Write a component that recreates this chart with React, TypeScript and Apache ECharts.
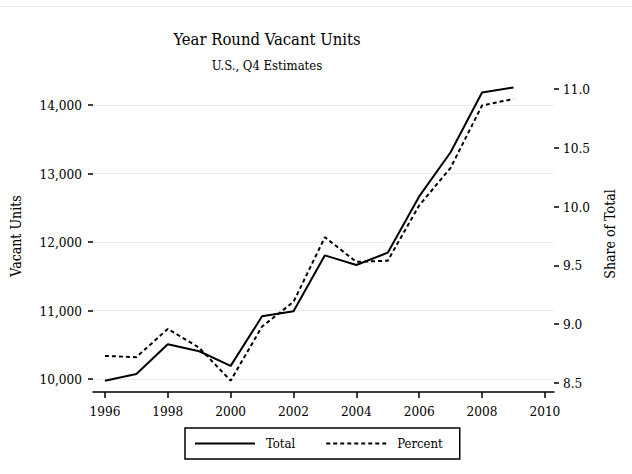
import React, { useEffect, useRef } from 'react';
import * as echarts from 'echarts';

const years = [1996, 1997, 1998, 1999, 2000, 2001, 2002, 2003, 2004, 2005, 2006, 2007, 2008, 2009];
const totalUnits = [9975, 10073, 10506, 10405, 10192, 10915, 10990, 11805, 11665, 11844, 12665, 13310, 14182, 14256];
const percentShare = [8.73, 8.72, 8.96, 8.8, 8.52, 8.98, 9.19, 9.74, 9.53, 9.54, 10.01, 10.33, 10.86, 10.915];
const xTicks = [1996, 1998, 2000, 2002, 2004, 2006, 2008, 2010];
const titleText = 'Year Round Vacant Units';
const subtitleText = 'U.S., Q4 Estimates';
const leftName = 'Vacant Units';
const rightName = 'Share of Total';

const FONT = "'DejaVu Serif Condensed', 'DejaVu Serif', serif";

export default function App() {
  const ref = useRef<HTMLDivElement>(null);
  useEffect(() => {
    const chart = echarts.init(ref.current!, null, { renderer: 'svg' });
    const tickLine = { color: '#000', width: 1.5 };
    const labelBase = { color: '#000', fontFamily: FONT, fontSize: 13.5 };
    chart.setOption({
      animation: false,
      backgroundColor: '#fff',
      grid: [
        { left: 93, right: 78, top: 105, height: 274 },
        { left: 93, right: 78, top: 89, height: 294 },
      ],
      xAxis: [
        {
          gridIndex: 0,
          type: 'value',
          min: 1995.62,
          max: 2010.29,
          offset: 13,
          axisLine: { show: true, lineStyle: { color: '#000', width: 1.5 } },
          axisTick: { show: true, customValues: xTicks, length: 6, lineStyle: tickLine },
          axisLabel: { ...labelBase, customValues: xTicks, margin: 12, formatter: (v: number) => String(v) },
          splitLine: { show: false },
        },
        { gridIndex: 1, type: 'value', min: 1995.62, max: 2010.29, show: false },
      ],
      yAxis: [
        {
          gridIndex: 0,
          type: 'value',
          position: 'left',
          min: 10000,
          max: 14000,
          interval: 1000,
          axisLine: { show: false },
          axisTick: { show: true, length: 5, lineStyle: tickLine },
          axisLabel: {
            ...labelBase,
            margin: 11,
            formatter: (v: number) => v.toLocaleString('en-US'),
          },
          splitLine: { show: true, lineStyle: { color: '#e8eeee', width: 1 } },
        },
        {
          gridIndex: 1,
          type: 'value',
          position: 'right',
          min: 8.5,
          max: 11,
          interval: 0.5,
          axisLine: { show: false },
          axisTick: { show: true, length: 5, lineStyle: tickLine },
          axisLabel: { ...labelBase, margin: 9, formatter: (v: number) => v.toFixed(1) },
          splitLine: { show: false },
        },
      ],
      legend: {
        left: 185,
        top: 428,
        orient: 'horizontal',
        itemWidth: 60,
        itemHeight: 14,
        itemGap: 30,
        padding: [9, 17, 9, 9],
        borderColor: '#000',
        borderWidth: 1.5,
        itemStyle: { opacity: 0 },
        textStyle: { color: '#000', fontFamily: FONT, fontSize: 13, padding: [0, 0, 0, 6] },
        data: ['Total', 'Percent'],
      },
      graphic: [
        { type: 'line', shape: { x1: 0, y1: 6.5, x2: 632, y2: 6.5 }, style: { stroke: '#e6e6e6', lineWidth: 1 } },
        {
          type: 'text', x: 267, y: 39,
          style: { text: titleText, fill: '#000', fontFamily: FONT, fontSize: 16.5, align: 'center', verticalAlign: 'middle' },
        },
        {
          type: 'text', x: 267, y: 65,
          style: { text: subtitleText, fill: '#000', fontFamily: FONT, fontSize: 13, align: 'center', verticalAlign: 'middle' },
        },
        {
          type: 'text', x: 16, y: 236, rotation: Math.PI / 2,
          style: { text: leftName, fill: '#000', fontFamily: FONT, fontSize: 14, align: 'center', verticalAlign: 'middle' },
        },
        {
          type: 'text', x: 610, y: 234, rotation: Math.PI / 2,
          style: { text: rightName, fill: '#000', fontFamily: FONT, fontSize: 14, align: 'center', verticalAlign: 'middle' },
        },
      ],
      series: [
        {
          name: 'Total',
          type: 'line',
          xAxisIndex: 0,
          yAxisIndex: 0,
          data: years.map((y, i) => [y, totalUnits[i]]),
          symbol: 'none',
          clip: false,
          lineStyle: { color: '#000', width: 2 },
          itemStyle: { color: '#000' },
        },
        {
          name: 'Percent',
          type: 'line',
          xAxisIndex: 1,
          yAxisIndex: 1,
          data: years.map((y, i) => [y, percentShare[i]]),
          symbol: 'none',
          clip: false,
          lineStyle: { color: '#000', width: 2, type: [4, 3] },
          itemStyle: { color: '#000' },
        },
      ],
    });
    return () => chart.dispose();
  }, []);
  return <div ref={ref} style={{ position: 'fixed', left: 0, top: 0, width: 632, height: 474 }} />;
}
